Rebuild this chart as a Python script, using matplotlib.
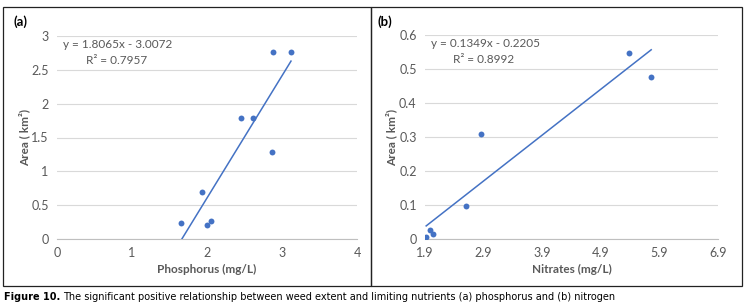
import matplotlib.pyplot as plt
import numpy as np
from matplotlib.patches import Rectangle

# panel (a): phosphorus vs area
phos_x = [1.65, 1.93, 2.00, 2.05, 2.45, 2.62, 2.87, 2.88, 3.12]
phos_y = [0.24, 0.70, 0.21, 0.27, 1.79, 1.79, 1.29, 2.76, 2.77]
phos_fit = (1.8065, -3.0072)

# panel (b): nitrates vs area
nitr_x = [1.92, 1.99, 2.03, 2.60, 2.85, 5.38, 5.76]
nitr_y = [0.007, 0.027, 0.016, 0.097, 0.308, 0.547, 0.476]
nitr_fit = (0.1349, -0.2205)

W, H = 749, 307
BLUE = "#4472C4"
GRAY = "#595959"
plt.rcParams["font.family"] = ["Lato", "DejaVu Sans"]

fig = plt.figure(figsize=(W / 100, H / 100), dpi=100)


def px_axes(x0, y0, x1, y1):
    # pixel box (top-left origin) -> figure axes
    return fig.add_axes([x0 / W, 1 - y1 / H, (x1 - x0) / W, (y1 - y0) / H])


def panel(ax, xs, ys, fit, xlim, xticks, ylim, yticks, xlabel, eq, r2, fmt):
    ax.scatter(xs, ys, s=18, color=BLUE, zorder=3, linewidths=0)
    xx = np.array([min(xs), max(xs)])
    ax.plot(xx, fit[0] * xx + fit[1], color=BLUE, lw=1.1, zorder=2)
    ax.set_xlim(*xlim)
    ax.set_ylim(*ylim)
    ax.set_xticks(xticks)
    ax.set_yticks(yticks)
    ax.set_xticklabels([fmt(t) for t in xticks])
    ax.set_yticklabels([("%g" % t) for t in yticks])
    ax.grid(axis="y", color="#d9d9d9", lw=0.8)
    ax.set_axisbelow(True)
    for s in ["top", "right", "left"]:
        ax.spines[s].set_visible(False)
    ax.spines["bottom"].set_color("#bfbfbf")
    ax.spines["bottom"].set_zorder(1)
    ax.tick_params(length=0, colors=GRAY, labelsize=9, pad=6)
    ax.set_xlabel(xlabel, color=GRAY, fontsize=8.5, fontweight="bold", labelpad=3)
    ax.set_ylabel("Area ( km²)", color=GRAY, fontsize=8.5, fontweight="bold", labelpad=1)
    ax.text(0.02, 0.985, eq, transform=ax.transAxes, fontsize=8.5, color=GRAY, va="top")
    ax.text(0.095, 0.905, r2, transform=ax.transAxes, fontsize=8.5, color=GRAY, va="top")


ax1 = px_axes(57, 36, 357, 239)
panel(ax1, phos_x, phos_y, phos_fit, (0, 4), [0, 1, 2, 3, 4], (0, 3),
      [0, 0.5, 1, 1.5, 2, 2.5, 3], "Phosphorus (mg/L)",
      "y = 1.8065x - 3.0072", "R² = 0.7957", lambda t: "%g" % t)

ax2 = px_axes(425, 35, 718, 239)
panel(ax2, nitr_x, nitr_y, nitr_fit, (1.9, 6.9), [1.9, 2.9, 3.9, 4.9, 5.9, 6.9], (0, 0.6),
      [0, 0.1, 0.2, 0.3, 0.4, 0.5, 0.6], "Nitrates (mg/L)",
      "y = 0.1349x - 0.2205", "R² = 0.8992", lambda t: "%.1f" % t)

# panel frames
for x0, x1 in [(3, 371), (371, 742)]:
    fig.patches.append(Rectangle((x0 / W, 1 - 286 / H), (x1 - x0) / W, (286 - 7) / H,
                                 transform=fig.transFigure, fill=False, ec="#222222", lw=0.9))

fig.text(13 / W, 1 - 22 / H, "(a)", fontsize=9.5, fontweight="bold", va="center")
fig.text(377 / W, 1 - 22 / H, "(b)", fontsize=9.5, fontweight="bold", va="center")

cap_font = ["Liberation Sans Narrow", "DejaVu Sans"]
fig.text(4 / W, 1 - 297 / H, "Figure 10.", fontsize=7, fontweight="bold", va="center",
         family=cap_font)
fig.text(63 / W, 1 - 297 / H,
         "The significant positive relationship between weed extent and limiting nutrients (a) phosphorus and (b) nitrogen",
         fontsize=7, va="center", family=cap_font)

fig.savefig("out.png", dpi=100)
